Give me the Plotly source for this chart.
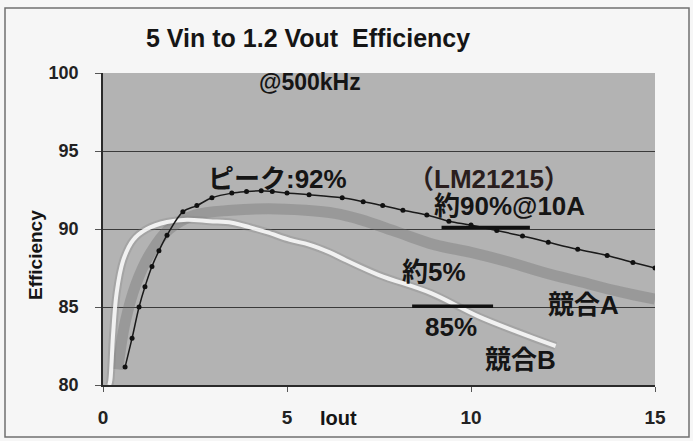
import plotly.graph_objects as go

# ---- data ----
lm_x = [0.6, 0.79, 0.98, 1.14, 1.33, 1.52, 1.74, 2.17, 2.55, 2.96, 3.5, 3.9, 4.3, 4.6, 5.0, 5.6,
        6.5, 7.07, 7.6, 8.15, 8.8, 9.4, 10.0, 10.7, 11.4, 12.1, 12.9, 13.7, 14.4, 15.0]
lm_y = [81.15, 83.0, 85.0, 86.3, 87.6, 88.6, 89.6, 91.1, 91.5, 92.0, 92.3, 92.4, 92.45, 92.4, 92.3, 92.2,
        92.0, 91.75, 91.5, 91.2, 90.9, 90.5, 90.25, 89.9, 89.55, 89.15, 88.7, 88.3, 87.85, 87.5]

compA_x = [0.4, 0.6, 0.9, 1.3, 1.8, 2.5, 3.5, 4.5, 5.5, 6.3, 7.0, 8.0, 9.0, 10.0, 11.0, 12.0, 13.0, 14.0, 15.0]
compA_y = [81.0, 84.0, 86.5, 88.5, 90.0, 90.9, 91.2, 91.3, 91.2, 91.0, 90.6, 89.8, 89.0, 88.5, 87.9, 87.2, 86.6, 86.0, 85.5]

compB_x = [0.17, 0.2, 0.27, 0.37, 0.55, 0.82, 1.19, 1.74, 2.28, 2.9, 3.5, 4.0, 4.45, 5.08, 5.6,
           6.16, 6.6, 7.5, 8.9, 10.2, 11.6, 12.3]
compB_y = [80.0, 80.3, 83.1, 85.9, 88.0, 89.3, 90.0, 90.45, 90.6, 90.5, 90.4, 90.1, 89.8, 89.3, 89.0,
           88.5, 88.0, 87.05, 85.9, 84.4, 83.1, 82.5]

x_ticks = [0, 5, 10, 15]
y_ticks = [80, 85, 90, 95, 100]

# reference marks: (x0, x1, y)
ref90 = [9.2, 11.6, 90.1]
ref85 = [8.4, 10.6, 85.05]

# text labels: (x, y, text)
labels = [
    (4.75, 93.2, "ピーク:92%"),
    (10.5, 93.2, "（LM21215）"),
    (11.05, 91.45, "約90%@10A"),
    (9.0, 87.25, "約5%"),
    (9.45, 83.7, "85%"),
    (13.05, 85.1, "競合A"),
    (11.35, 81.6, "競合B"),
]

JP = "Liberation Sans, Noto Sans CJK JP, sans-serif"
LAT = "Liberation Sans, sans-serif"

fig = go.Figure()
fig.add_trace(go.Scatter(x=compA_x, y=compA_y, mode="lines", line=dict(color="rgba(105,105,105,0.35)", width=11, shape="spline"),
                         hoverinfo="skip", name="競合A"))
fig.add_trace(go.Scatter(x=compB_x, y=compB_y, mode="lines", line=dict(color="rgba(130,130,130,0.3)", width=8, shape="spline"),
                         hoverinfo="skip", name="競合B halo"))
fig.add_trace(go.Scatter(x=compB_x, y=compB_y, mode="lines", line=dict(color="rgba(250,250,250,0.9)", width=4, shape="spline"),
                         name="競合B"))
fig.add_trace(go.Scatter(x=lm_x, y=lm_y, mode="lines+markers", line=dict(color="#1a1a1a", width=1.5, shape="spline"),
                         marker=dict(color="#111111", size=5), name="LM21215"))

for x0, x1, yv in [ref90, ref85]:
    fig.add_shape(type="line", xref="x", yref="y", x0=x0, x1=x1, y0=yv, y1=yv,
                  line=dict(color="#111111", width=3.5))

for lx, ly, t in labels:
    fig.add_annotation(x=lx, y=ly, xref="x", yref="y", text="<b>%s</b>" % t, showarrow=False,
                       xanchor="center", yanchor="middle",
                       font=dict(family=JP, size=26, color="#2a1e1e" if "LM" in t else "#151515"))

W, H = 693, 441
L, R, T, B = 103, 38, 73, 56
pw, ph = W - L - R, H - T - B


def px(xp):
    return (xp - L) / pw


def py(yp):
    return (H - B - yp) / ph


def paper_text(xp, yp, text, size, angle=0):
    fig.add_annotation(x=px(xp), y=py(yp), xref="paper", yref="paper", text="<b>%s</b>" % text,
                       showarrow=False, xanchor="center", yanchor="middle", textangle=angle,
                       font=dict(family=LAT, size=size, color="#151515"))


paper_text(308, 38, "5 Vin to 1.2 Vout  Efficiency", 25)
paper_text(310, 82, "@500kHz", 23)
paper_text(36, 255, "Efficiency", 19, -90)
paper_text(338, 418, "Iout", 20)

# outer frame
fig.add_shape(type="rect", xref="paper", yref="paper", x0=px(5), x1=px(689), y0=py(437), y1=py(8),
              line=dict(color="#707070", width=1.5), layer="below")

fig.update_layout(
    width=W, height=H,
    margin=dict(l=L, r=R, t=T, b=B, autoexpand=False),
    paper_bgcolor="#f6f6f6",
    plot_bgcolor="#b3b3b3",
    showlegend=False,
    font=dict(family=LAT, color="#222222"),
)
fig.update_xaxes(range=[0, 15], tickvals=x_ticks, showgrid=False, zeroline=False, automargin=False,
                 showline=True, linecolor="#2a2a2a", linewidth=1.5,
                 ticks="outside", ticklen=5, tickcolor="#555555", ticklabelstandoff=9,
                 tickfont=dict(size=19, color="#222222", family=LAT, weight="bold"))
fig.update_yaxes(range=[80, 100], tickvals=y_ticks, showgrid=True, gridcolor="#3a3a3a", gridwidth=1.3,
                 zeroline=False, showline=True, linecolor="#2a2a2a", linewidth=1.5, automargin=False,
                 ticks="outside", ticklen=6, tickcolor="#555555", ticklabelstandoff=13,
                 tickfont=dict(size=18, color="#222222", family=LAT, weight="bold"))

fig.write_html("out.html", config={"displayModeBar": False},
               post_script="document.body.style.margin='0px';")
